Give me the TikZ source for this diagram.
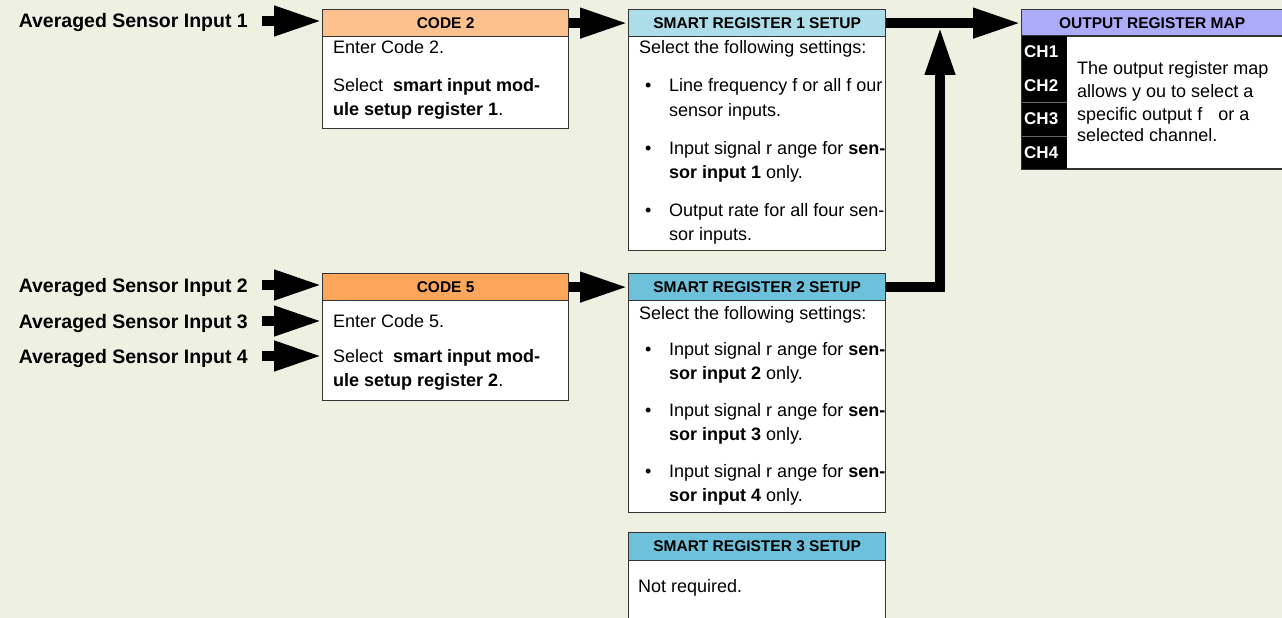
\documentclass[tikz,border=0pt]{standalone}
\usepackage{fontspec}
\setmainfont{Liberation Sans}
\usetikzlibrary{arrows.meta,calc}
\definecolor{bgc}{HTML}{EEF1E1}
\definecolor{bordc}{HTML}{333333}
\definecolor{codeA}{HTML}{FDC18D}
\definecolor{codeB}{HTML}{FBA65B}
\definecolor{srA}{HTML}{ACDDE9}
\definecolor{srB}{HTML}{6EC1DA}
\definecolor{mapc}{HTML}{ABABFA}
\definecolor{sepc}{HTML}{666666}
\begin{document}
\begin{tikzpicture}[x=1pt,y=-1pt,
  hdr/.style={draw=bordc, line width=1.2pt, font=\fontsize{15.5}{18}\selectfont\bfseries, inner sep=0pt, anchor=north west, minimum height=27pt, text=black},
  bodyb/.style={draw=bordc, line width=1pt, fill=white, anchor=north west, inner sep=0pt},
  txt/.style={anchor=base west, inner sep=0pt, font=\fontsize{18}{22}\selectfont},
  chl/.style={anchor=west, inner sep=0pt, font=\fontsize{17}{20}\selectfont\bfseries, text=white},
  lbl/.style={anchor=base east, inner sep=0pt, font=\fontsize{19.5}{22}\selectfont\bfseries},
  bigarrow/.style={line width=10pt, -{Triangle[length=48pt,width=28pt]}, line join=miter}]
\fill[bgc] (0,0) rectangle (1282,618);
\useasboundingbox (0,0) rectangle (1282,618);

% input labels
\node[lbl] (in1) at (248,28) {Averaged Sensor Input 1};
\node[lbl] (in2) at (248,292) {Averaged Sensor Input 2};
\node[lbl] (in3) at (248,328) {Averaged Sensor Input 3};
\node[lbl] (in4) at (248,363) {Averaged Sensor Input 4};

% CODE 2
\node[hdr, fill=codeA, minimum width=246pt] (code2h) at (322,9) {CODE 2};
\node[bodyb, minimum width=246pt, minimum height=92pt] (code2b) at (322,36) {};
\node[txt] (c2t1) at (333,53.5) {Enter Code 2.};
\node[txt] (c2t2) at (333,91) {Select \ \textbf{smart input mod-}};
\node[txt] (c2t3) at (333,115) {\textbf{ule setup register 1}.};

% CODE 5
\node[hdr, fill=codeB, minimum width=246pt] (code5h) at (322,273) {CODE 5};
\node[bodyb, minimum width=246pt, minimum height=100pt] (code5b) at (322,300) {};
\node[txt] (c5t1) at (333,327.5) {Enter Code 5.};
\node[txt] (c5t2) at (333,362.5) {Select \ \textbf{smart input mod-}};
\node[txt] (c5t3) at (333,386.5) {\textbf{ule setup register 2}.};

% SMART REGISTER 1
\node[hdr, fill=srA, minimum width=257pt] (sr1h) at (628,9) {SMART REGISTER 1 SETUP};
\node[bodyb, minimum width=257pt, minimum height=214pt] (sr1b) at (628,36) {};
\node[txt] (s1t0) at (639,53.5) {Select the following settings:};
\node[txt] (s1b1) at (645,91.5) {\textbullet};
\node[txt] (s1t1) at (669,91.5) {Line frequency f or all f our};
\node[txt] (s1t2) at (669,116) {sensor inputs.};
\node[txt] (s1b2) at (645,154.5) {\textbullet};
\node[txt] (s1t3) at (669,154.5) {Input signal r ange for \textbf{sen-}};
\node[txt] (s1t4) at (669,178.5) {\textbf{sor input 1} only.};
\node[txt] (s1b3) at (645,216.5) {\textbullet};
\node[txt] (s1t5) at (669,216.5) {Output rate for all four sen-};
\node[txt] (s1t6) at (669,240.5) {sor inputs.};

% SMART REGISTER 2
\node[hdr, fill=srB, minimum width=257pt] (sr2h) at (628,273) {SMART REGISTER 2 SETUP};
\node[bodyb, minimum width=257pt, minimum height=212pt] (sr2b) at (628,300) {};
\node[txt] (s2t0) at (639,319.5) {Select the following settings:};
\node[txt] (s2b1) at (645,355.5) {\textbullet};
\node[txt] (s2t1) at (669,355.5) {Input signal r ange for \textbf{sen-}};
\node[txt] (s2t2) at (669,379.5) {\textbf{sor input 2} only.};
\node[txt] (s2b2) at (645,416.5) {\textbullet};
\node[txt] (s2t3) at (669,416.5) {Input signal r ange for \textbf{sen-}};
\node[txt] (s2t4) at (669,440.5) {\textbf{sor input 3} only.};
\node[txt] (s2b3) at (645,477.5) {\textbullet};
\node[txt] (s2t5) at (669,477.5) {Input signal r ange for \textbf{sen-}};
\node[txt] (s2t6) at (669,501.5) {\textbf{sor input 4} only.};

% SMART REGISTER 3
\node[hdr, fill=srB, minimum width=257pt, minimum height=28pt] (sr3h) at (628,532) {SMART REGISTER 3 SETUP};
\node[bodyb, minimum width=257pt, minimum height=58pt] (sr3b) at (628,560) {};
\node[txt] (s3t0) at (638,592.5) {Not required.};

% OUTPUT REGISTER MAP
\node[hdr, fill=mapc, minimum width=261pt] (maph) at (1021,9) {OUTPUT REGISTER MAP};
\node[bodyb, minimum width=261pt, minimum height=132pt] (mapb) at (1021,36) {};
\fill[black] (mapb.north west) rectangle ($(mapb.south west)+(46,0)$);
\draw[sepc, line width=0.8pt] ($(mapb.north west)+(0,66)$) -- ++(46,0);
\draw[sepc, line width=0.8pt] ($(mapb.north west)+(0,100)$) -- ++(46,0);
\draw[bordc, line width=1pt] (mapb.north west) rectangle (mapb.south east);
\node[chl] (ch1) at (1024,52) {CH1};
\node[chl] (ch2) at (1024,86) {CH2};
\node[chl] (ch3) at (1024,119) {CH3};
\node[chl] (ch4) at (1024,153) {CH4};
\node[txt] (m1) at (1077,74.5) {The output register map};
\node[txt] (m2) at (1077,97.5) {allows y ou to select a};
\node[txt] (m3) at (1077,120.5) {specific output f\hspace{16pt}or a};
\node[txt] (m4) at (1077,141.5) {selected channel.};

% arrows
\coordinate (a1) at ($(in1.base east)+(14,-7)$);
\coordinate (a2) at ($(in2.base east)+(14,-7)$);
\coordinate (a3) at ($(in3.base east)+(14,-7)$);
\coordinate (a4) at ($(in4.base east)+(14,-7)$);
\draw[bigarrow] (a1) -- (a1 -| code2h.west);
\draw[bigarrow] (a2) -- (a2 -| code5h.west);
\draw[bigarrow] (a3) -- (a3 -| code5b.west);
\draw[bigarrow] (a4) -- (a4 -| code5b.west);
\draw[bigarrow] (code2h.east) -- (sr1h.west);
\draw[bigarrow] (code5h.east) -- (sr2h.west);
\draw[bigarrow] (sr1h.east) -- (maph.west);
\coordinate (vtip) at (940,27);
\draw[bigarrow] (sr2h.east) -| (vtip);
\end{tikzpicture}
\end{document}
